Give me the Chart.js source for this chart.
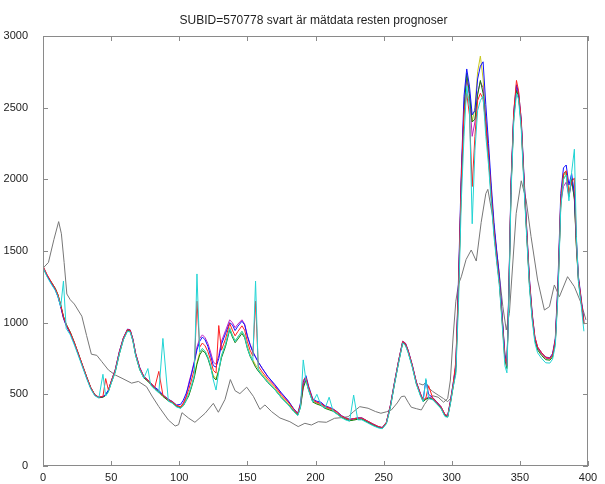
<!DOCTYPE html>
<html>
<head>
<meta charset="utf-8">
<script src="https://cdn.jsdelivr.net/npm/chart.js@4.4.1/dist/chart.umd.min.js"></script>
<style>
html,body{margin:0;padding:0;background:#fff;}
#wrap{width:605px;height:484px;position:relative;}
</style>
</head>
<body>
<div id="wrap"><canvas id="c" width="605" height="484"></canvas></div>
<script>
const chartTitle = "SUBID=570778 svart är mätdata resten prognoser";
const xTicks = [0,50,100,150,200,250,300,350,400];
const yTicks = [0,500,1000,1500,2000,2500,3000];

// measured data (black)
const mx = [0,4,8,11.5,13.5,15.5,17.5,20,23,28.5,32,35.5,39.5,43,48,53,58,65,70,76,80,85,92,97,99.5,102,107,111.5,119,125,128.7,133.6,137.5,141,144.5,149.5,154.4,159.2,162.9,167.8,173.9,181.2,187.3,192.2,197,202,208,214,220,224,228,232.5,238.6,244,248,252,255.7,260,263,265.4,268,270.3,274,277.7,280,283,286,290,294,297,299,301,303,305,307,310.5,314.3,318,321.6,325,326.5,330,334,337.5,340,342.3,347.3,351,354.6,358.2,363,368,371.7,375.3,379,385,390,395,398.5];
const my = [1380,1420,1580,1705,1620,1420,1200,1160,1130,1045,910,780,772,730,670,635,612,578,590,553,488,414,321,279,288,372,333,305,368,437,375,465,603,525,505,550,486,395,426,379,335,309,275,298,286,309,305,333,338,344,380,414,403,380,368,378,391,440,484,488,445,410,400,391,430,470,490,480,445,470,600,900,1150,1270,1320,1440,1507,1430,1700,1900,1930,1740,1414,1112,949,1065,1763,1990,1856,1600,1298,1088,1112,1263,1181,1321,1251,1135,1019];

// forecasts (shared x)
const fx = [0,3,6,9,11,13,15,17,20,23,26,29,32,35,38,41,44,46,48,50,53,56,59,62,64,66,68,71,74,77,79,82,85,88,92,95,98,101,103,105,107,109,111,113,115,117,119,121,123,125,127,129,131,134,137,139,141,143,146,148,150,152,154,156,158,161,165,170,175,180,184,187,189,191,193,195,198,201,204,207,210,213,216,219,222,225,228,231,234,238,242,246,249,252,255,258,261,264,266,268,271,274,277,279,281,283,286,289,292,295,297,299,301,303,305,307,309,311,313,315,317,319,321,323,325,327,329,331,333,335,337,339,340.5,342,343.5,345.5,347.5,349,351,353,355,357,359,361,363,366,369,372,374,376,378,380,382,384,386,388,390,391.5,393,395,397];

const fBlue = [1390,1330,1275,1230,1180,1110,1030,980,925,855,
778,698,618,545,495,480,484,500,530,590,
672,798,895,955,950,885,785,688,625,600,
580,550,528,496,466,450,426,430,460,505,
565,640,720,810,870,900,880,835,770,700,
690,750,850,925,1000,985,945,975,1010,985,
905,845,795,760,725,680,625,570,510,455,
400,368,440,585,630,555,468,452,445,420,
410,398,378,352,336,326,330,336,336,314,
294,275,268,305,425,585,735,870,858,808,
706,588,505,462,600,500,478,448,415,360,
350,455,575,700,1320,2050,2580,2770,2650,2450,
2480,2700,2790,2820,2520,2250,1960,1700,1500,1320,
1050,780,700,1280,1980,2470,2660,2610,2420,2030,
1660,1310,1070,900,830,790,760,755,785,890,
1300,1900,2080,2100,1960,2040,1900,1580,1320,1170,
1010];

const fGreen = [1385,1325,1285,1240,1195,1125,1045,990,935,862,
782,702,622,548,498,476,480,492,520,578,
655,780,882,945,940,872,772,672,615,590,
570,540,515,485,455,440,415,405,420,455,
490,550,615,710,775,805,790,750,690,620,
600,665,755,835,950,900,860,885,925,895,
820,765,728,690,662,628,582,535,476,428,
382,355,410,545,598,528,446,432,422,402,
392,382,362,340,326,316,320,326,326,306,
286,270,263,296,412,572,722,860,846,795,
695,575,495,450,465,475,465,436,405,350,
342,440,550,660,1230,1950,2480,2740,2600,2400,
2420,2590,2690,2600,2380,2140,1880,1630,1440,1270,
1010,740,680,1230,1930,2430,2620,2580,2380,1980,
1620,1270,1040,880,810,770,742,738,760,860,
1230,1820,2030,2050,1880,2000,1860,1520,1290,1140,
990];

const fRed = [1395,1335,1285,1238,1195,1122,1042,988,932,863,
784,704,624,549,498,480,486,610,530,590,
670,795,893,952,948,883,785,684,624,600,
580,548,660,495,463,448,423,412,436,478,
535,600,672,1150,830,858,838,798,740,668,
648,980,808,888,995,948,908,938,978,948,
868,808,768,1150,698,655,606,556,495,446,
396,366,428,600,618,546,462,446,436,416,
405,395,376,350,335,325,330,335,335,315,
294,276,268,304,425,585,735,870,855,805,
705,585,505,460,475,560,475,445,415,360,
350,450,570,730,1270,2000,2480,2600,2450,1950,
2300,2550,2600,2560,2380,2160,1890,1640,1450,1280,
1020,760,700,1260,1960,2470,2690,2620,2410,2010,
1650,1300,1060,900,830,790,758,752,775,880,
1260,1860,2040,2060,1900,1980,2010,1560,1310,1160,
1000];

const fCyan = [1385,1320,1270,1225,1180,1110,1290,960,915,845,
768,690,610,538,490,474,640,488,518,575,
655,780,880,940,935,870,770,672,612,680,
565,535,510,890,452,438,412,402,420,455,
505,560,630,1340,795,820,800,760,700,600,
530,660,770,850,960,910,870,900,940,905,
825,770,735,1290,670,630,585,535,475,426,
380,352,410,740,595,525,445,500,425,402,
480,380,360,338,322,312,495,322,322,302,
282,266,260,294,410,572,720,858,840,790,
690,570,490,450,610,470,462,432,402,345,
340,430,550,640,1150,1850,2300,2650,2500,1690,
2200,2480,2550,2580,2300,2100,1840,1600,1420,1250,
990,700,650,1200,1900,2400,2600,2560,2350,1950,
1600,1250,1020,860,790,750,720,718,745,840,
1200,1800,2000,2030,1850,2050,2210,1600,1280,1120,
940];

const fMagenta = [1388,1332,1282,1236,1188,1118,1038,984,928,858,
779,700,621,546,496,479,483,496,526,586,
666,791,891,951,946,881,781,681,621,596,
576,546,522,492,462,447,422,415,440,485,
580,650,730,830,890,915,895,855,795,725,
710,770,870,945,1020,1000,965,990,1020,990,
910,850,800,760,725,680,622,565,505,452,
396,364,424,565,615,545,460,444,434,414,
403,393,373,348,333,323,328,333,333,313,
292,274,266,302,422,582,732,866,852,802,
702,582,502,457,472,482,472,442,412,357,
347,445,565,700,1260,1980,2520,2700,2580,2300,
2400,2600,2680,2640,2420,2180,1910,1660,1470,1300,
1040,770,695,1250,1950,2440,2650,2590,2390,1990,
1630,1280,1050,890,822,782,752,748,772,872,
1240,1830,1950,1980,1880,1990,1870,1540,1300,1150,
990];

const fYellow = [1384,1328,1278,1232,1186,1116,1036,982,926,856,
776,697,618,543,494,477,481,494,524,583,
663,788,888,948,943,878,778,678,618,593,
573,543,518,488,458,443,418,408,428,468,
500,560,630,720,790,820,800,760,700,630,
610,670,770,850,965,915,875,900,940,910,
835,780,740,705,678,640,592,543,484,434,
387,358,418,558,608,538,453,438,428,408,
398,388,368,343,328,318,323,328,328,308,
288,271,264,299,418,578,728,863,848,798,
698,578,498,453,468,478,468,438,408,353,
343,438,555,690,1240,1970,2450,2600,2560,2400,
2500,2750,2860,2700,2420,2180,1910,1660,1470,1300,
1040,770,690,1240,1940,2440,2640,2590,2390,1990,
1630,1280,1050,890,820,780,750,745,770,870,
1240,1840,2000,2040,1900,2010,1870,1540,1300,1150,
990];

// short dark forecast segment
const kx = [276,279,281,283,286,290,294,297,299];
const ky = [575,565,585,545,520,495,470,449,470];

const pts = (xs, ys) => xs.map((x, i) => ({x: x, y: ys[i]}));

function line(label, xs, ys, color, order, width) {
  return {label: label, data: pts(xs, ys), borderColor: color, borderWidth: width || 1,
    pointRadius: 0, fill: false, tension: 0, order: order};
}

const framePlugin = {
  id: 'frame',
  afterDatasetsDraw(chart) {
    const ctx = chart.ctx, a = chart.chartArea, xs = chart.scales.x, ys = chart.scales.y;
    ctx.save();
    ctx.strokeStyle = '#8a8a8a';
    ctx.lineWidth = 1;
    ctx.strokeRect(Math.round(a.left) + 0.5, Math.round(a.top) + 0.5,
      Math.round(a.right - a.left) - 1, Math.round(a.bottom - a.top) - 1);
    ctx.beginPath();
    xTicks.forEach(v => {
      const p = Math.round(xs.getPixelForValue(v)) + 0.5;
      ctx.moveTo(p, a.bottom); ctx.lineTo(p, a.bottom - 5);
      ctx.moveTo(p, a.top); ctx.lineTo(p, a.top + 5);
    });
    yTicks.forEach(v => {
      const p = Math.round(ys.getPixelForValue(v)) + 0.5;
      ctx.moveTo(a.left, p); ctx.lineTo(a.left + 5, p);
      ctx.moveTo(a.right, p); ctx.lineTo(a.right - 5, p);
    });
    ctx.stroke();
    ctx.fillStyle = '#222';
    ctx.font = '12px "Liberation Sans", Arial, sans-serif';
    ctx.textAlign = 'center';
    ctx.textBaseline = 'middle';
    ctx.fillText(chartTitle, (a.left + a.right) / 2 - 2, 21);
    ctx.restore();
  }
};

Chart.defaults.font.family = '"Liberation Sans", Arial, sans-serif';
Chart.defaults.font.size = 11;
Chart.defaults.color = '#222';

new Chart(document.getElementById('c'), {
  type: 'line',
  data: {
    datasets: [
      line('c', fx, fCyan, '#22d4d4', 1),
      line('r', fx, fRed, '#ff2020', 2),
      line('b', fx, fBlue, '#1010ff', 3),
      line('g', fx, fGreen, '#108010', 4),
      line('m', fx, fMagenta, '#c020c0', 5),
      line('y', fx, fYellow, '#c8c820', 6),
      line('k', kx, ky, '#7a7a7a', 7),
      line('measured', mx, my, '#777777', 8, 1)
    ]
  },
  options: {
    responsive: false,
    animation: false,
    events: [],
    layout: {padding: {top: 36, right: 17, left: 0, bottom: 0}},
    plugins: {legend: {display: false}, tooltip: {enabled: false}, title: {display: false}},
    scales: {
      x: {
        type: 'linear', min: 0, max: 400,
        afterFit(s) { s.height = 18; },
        afterBuildTicks(s) { s.ticks = xTicks.map(v => ({value: v})); },
        grid: {display: false}, border: {display: false},
        ticks: {padding: -3, maxRotation: 0, autoSkip: false, callback: v => String(v)}
      },
      y: {
        type: 'linear', min: 0, max: 3000,
        afterFit(s) { s.width = 43; },
        afterBuildTicks(s) { s.ticks = yTicks.map(v => ({value: v})); },
        grid: {display: false}, border: {display: false},
        ticks: {padding: 7, autoSkip: false, callback: v => String(v)}
      }
    }
  },
  plugins: [framePlugin]
});
</script>
</body>
</html>
